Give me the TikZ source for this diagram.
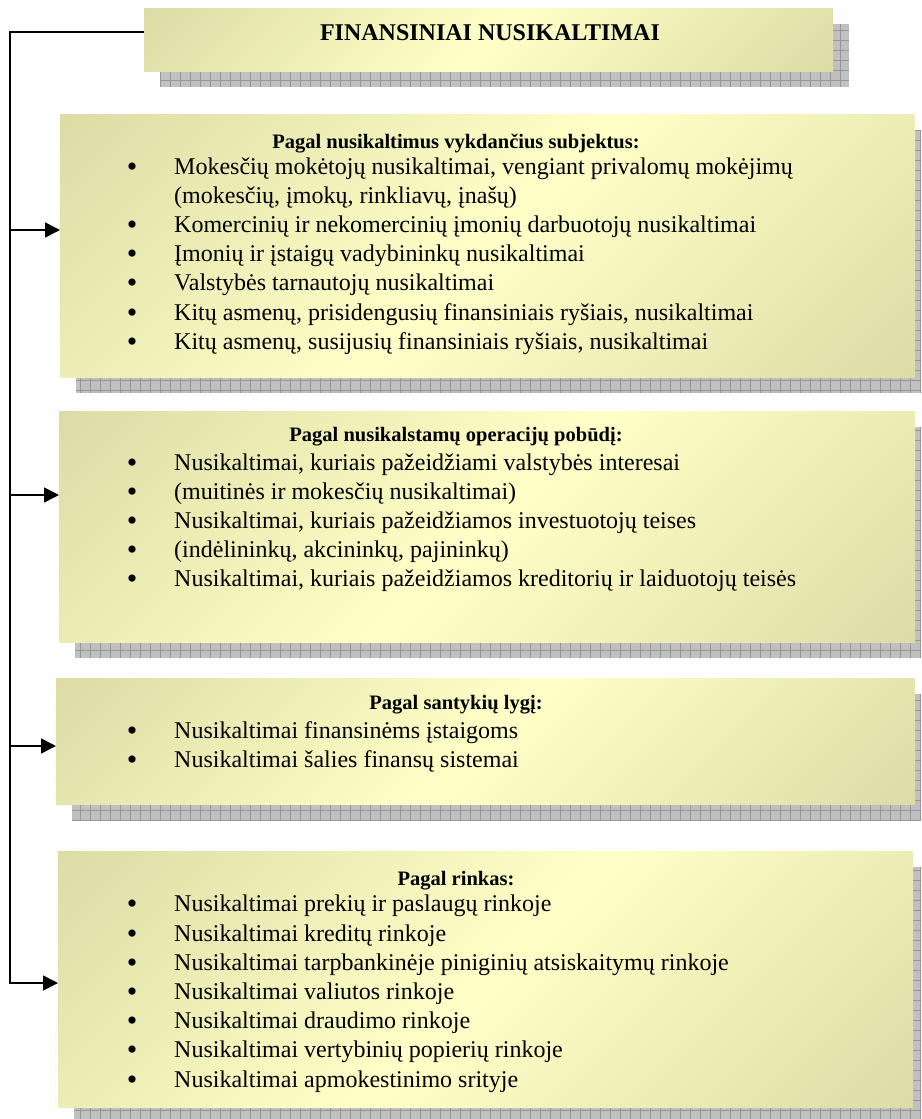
\documentclass[tikz,border=0pt]{standalone}
\usepackage{fontspec}
\setmainfont{Liberation Serif}
\usetikzlibrary{arrows.meta}
\definecolor{gdark}{RGB}{220,219,165}
\definecolor{glight}{RGB}{255,255,199}
\definecolor{shfill}{RGB}{192,192,192}
\definecolor{shline}{RGB}{150,150,150}
\pgfdeclarehorizontalshading{wordgrad}{100bp}{color(0bp)=(gdark); color(14bp)=(gdark); color(50bp)=(glight); color(86bp)=(gdark); color(100bp)=(gdark)}
\newcommand{\shadowrect}[4]{%
  \fill[shfill] (#1+16,#2+16) rectangle (#3+16,#4+16);
  \begin{scope}
    \clip (#1+16,#2+16) rectangle (#3+16,#4+16);
    \draw[shline, line width=0.7pt, xstep=10pt, ystep=10pt] (#1+16,#2+16) grid (#3+16,#4+16);
  \end{scope}}
\newcommand{\bul}[3]{%
  \node[txt, font=\fontsize{30}{30}\selectfont, anchor=base] (#1b) at (132,#2+9) {•};
  \node[txt, anchor=base west] (#1) at (174,#2+7) {#3};}
\newcommand{\cont}[3]{%
  \node[txt, anchor=base west] (#1) at (174,#2+7) {#3};}
\newcommand{\head}[3]{%
  \node[txt, font=\fontsize{20.5}{25}\selectfont\bfseries, anchor=base] (#1) at (456,#2+6.5) {#3};}
\begin{document}
\begin{tikzpicture}[x=1pt, y=-1pt,
  box/.style={shading=wordgrad, shading angle=-45, draw=none, inner sep=0, anchor=north west},
  txt/.style={inner sep=0, font=\fontsize{24}{29}\selectfont},
  conn/.style={line width=1.6pt, black},
  arr/.style={conn, -{Triangle[length=15pt, width=15pt]}}]
\clip (0,0) rectangle (921,1119);
% shadows
\shadowrect{144}{8}{833}{71}
\shadowrect{60}{114}{915}{377}
\shadowrect{59}{411}{915}{642}
\shadowrect{56}{678}{915}{804}
\shadowrect{58}{851}{913}{1107}
% boxes
\node[box, minimum width=689, minimum height=63] (title) at (144,8) {};
\node[box, minimum width=855, minimum height=263] (box1) at (60,114) {};
\node[box, minimum width=856, minimum height=231] (box2) at (59,411) {};
\node[box, minimum width=859, minimum height=126] (box3) at (56,678) {};
\node[box, minimum width=855, minimum height=256] (box4) at (58,851) {};
% connectors
\coordinate (c0) at (10,32);
\coordinate (t1) at (10,230);
\coordinate (t2) at (10,495);
\coordinate (t3) at (10,746);
\coordinate (t4) at (10,983);
\draw[arr] (c0 -| title.west) -- (c0) -- (t4) -- (t4 -| box4.west);
\draw[arr] (t1) -- (t1 -| box1.west);
\draw[arr] (t2) -- (t2 -| box2.west);
\draw[arr] (t3) -- (t3 -| box3.west);
% title text
\node[txt, font=\fontsize{24}{29}\selectfont\bfseries, anchor=base] (ttl) at (490,40) {FINANSINIAI NUSIKALTIMAI};
% box 1
\head{h1}{142}{Pagal nusikaltimus vykdančius subjektus:}
\bul{a1}{167}{Mokesčių mokėtojų nusikaltimai, vengiant privalomų mokėjimų}
\cont{a2}{196.2}{(mokesčių, įmokų, rinkliavų, įnašų)}
\bul{a3}{225.4}{Komercinių ir nekomercinių įmonių darbuotojų nusikaltimai}
\bul{a4}{254.6}{Įmonių ir įstaigų vadybininkų nusikaltimai}
\bul{a5}{283.8}{Valstybės tarnautojų nusikaltimai}
\bul{a6}{313}{Kitų asmenų, prisidengusių finansiniais ryšiais, nusikaltimai}
\bul{a7}{342.2}{Kitų asmenų, susijusių finansiniais ryšiais, nusikaltimai}
% box 2
\head{h2}{435}{Pagal nusikalstamų operacijų pobūdį:}
\bul{b1}{463}{Nusikaltimai, kuriais pažeidžiami valstybės interesai}
\bul{b2}{492}{(muitinės ir mokesčių nusikaltimai)}
\bul{b3}{521}{Nusikaltimai, kuriais pažeidžiamos investuotojų teises}
\bul{b4}{550}{(indėlininkų, akcininkų, pajininkų)}
\bul{b5}{579}{Nusikaltimai, kuriais pažeidžiamos kreditorių ir laiduotojų teisės}
% box 3
\head{h3}{703}{Pagal santykių lygį:}
\bul{c1}{731}{Nusikaltimai finansinėms įstaigoms}
\bul{c2}{760}{Nusikaltimai šalies finansų sistemai}
% box 4
\head{h4}{879}{Pagal rinkas:}
\bul{d1}{904.8}{Nusikaltimai prekių ir paslaugų rinkoje}
\bul{d2}{934}{Nusikaltimai kreditų rinkoje}
\bul{d3}{963.2}{Nusikaltimai tarpbankinėje piniginių atsiskaitymų rinkoje}
\bul{d4}{992.4}{Nusikaltimai valiutos rinkoje}
\bul{d5}{1021.6}{Nusikaltimai draudimo rinkoje}
\bul{d6}{1050.8}{Nusikaltimai vertybinių popierių rinkoje}
\bul{d7}{1080}{Nusikaltimai apmokestinimo srityje}
\end{tikzpicture}
\end{document}
